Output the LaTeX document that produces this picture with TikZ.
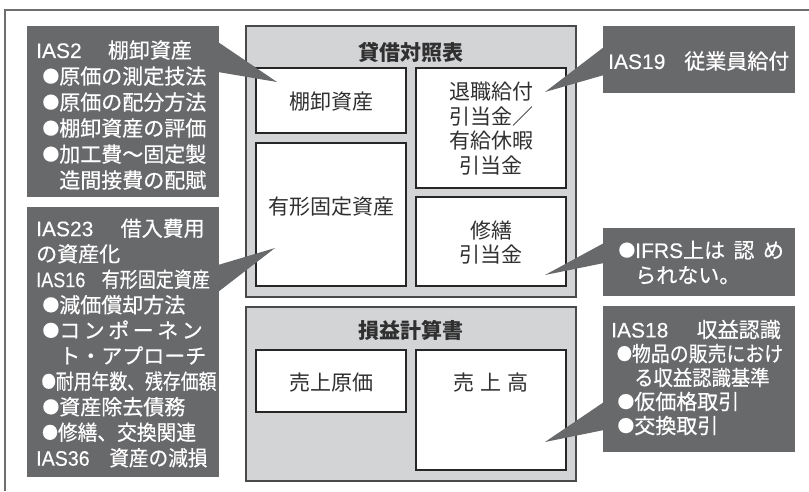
\documentclass[tikz,border=0pt]{standalone}
\usepackage{fontspec}
\setmainfont{Noto Sans CJK JP}
\newfontfamily\cfont[FakeBold=0.5]{Noto Sans CJK JP}
\newfontfamily\lfont[FakeBold=0.3]{Liberation Sans}
\newcommand\lat[1]{{\lfont #1}}
\newcommand\bul{\makebox[1.1em][r]{\raisebox{0.07em}{\scalebox{0.8}{●}}}}
\usepackage{graphicx}
\definecolor{callgray}{HTML}{68696B}
\definecolor{sheetgray}{HTML}{D3D4D6}
\definecolor{sheetline}{HTML}{4A4A4A}
\definecolor{itemline}{HTML}{262626}
\definecolor{framecol}{HTML}{6E6E6E}
\definecolor{textdark}{HTML}{303030}
\begin{document}
\begin{tikzpicture}[x=1pt,y=-1pt,
  frame/.style={draw=framecol,line width=1.4pt},
  sheet/.style={draw=sheetline,fill=sheetgray,line width=1.2pt,inner sep=0pt,outer sep=0pt},
  item/.style={draw=itemline,fill=white,line width=1.8pt,inner sep=0pt,outer sep=0pt},
  callout/.style={fill=callgray,draw=none,inner sep=0pt,outer sep=0pt},
  wedge/.style={fill=callgray,draw=none},
  ctext/.style={text=white,font=\cfont\fontsize{21}{26}\selectfont,align=left,inner sep=0pt,anchor=west},
  itext/.style={text=textdark,font=\fontsize{21}{24.5}\selectfont,align=center,inner sep=0pt},
  ttext/.style={text=textdark,font=\bfseries\fontsize{21}{25}\selectfont,inner sep=0pt},
]
\useasboundingbox (0,0) rectangle (809,491);
\fill[white] (0,0) rectangle (809,491);

% outer frame (top and left only)
\coordinate (fr-tr) at (809,10);
\coordinate (fr-tl) at (5,10);
\coordinate (fr-bl) at (5,491);
\draw[frame] (fr-tr) -- (fr-tl) -- (fr-bl);

% statements
\node[sheet,minimum width=330pt,minimum height=271pt] (bs) at (411,161.5) {};
\node[sheet,minimum width=330pt,minimum height=174pt] (is) at (411,394) {};
\node[ttext] (bs-t) at (411,52) {貸借対照表};
\node[ttext] (is-t) at (411,330) {損益計算書};

\node[item,minimum width=150pt,minimum height=65pt] (inv) at (331,100.5) {};
\node[item,minimum width=150pt,minimum height=143pt] (ppe) at (331,214.5) {};
\node[item,minimum width=150pt,minimum height=120pt] (ret) at (491,128) {};
\node[item,minimum width=150pt,minimum height=89pt] (rep) at (491,241.5) {};
\node[item,minimum width=150pt,minimum height=62pt] (cogs) at (331,381) {};
\node[item,minimum width=150pt,minimum height=120pt] (sales) at (491,410) {};

\node[itext] (inv-t) at (331,102) {棚卸資産};
\node[itext] (ppe-t) at (331,207) {有形固定資産};
\node[itext] (ret-t) at (491,128.5) {退職給付\\引当金／\\有給休暇\\引当金};
\node[itext] (rep-t) at (491,242.5) {修繕\\引当金};
\node[itext] (cogs-t) at (331,383) {売上原価};
\node[itext] (sales-t) at (491,383) {売\hspace{0.3em}上\hspace{0.3em}高};

% callout boxes
\node[callout,minimum width=192pt,minimum height=171pt] (ias2) at (123,111.5) {};
\node[callout,minimum width=192pt,minimum height=270pt] (ias23) at (123,342) {};
\node[callout,minimum width=192pt,minimum height=67pt] (ias19) at (699,59.5) {};
\node[callout,minimum width=192pt,minimum height=68pt] (ifrs) at (699,262) {};
\node[callout,minimum width=192pt,minimum height=146pt] (ias18) at (699,379) {};

% pointer tips
\coordinate (tip-ias2) at (277,82);
\coordinate (tip-ias23) at (275,248);
\coordinate (tip-ias19) at (545,92);
\coordinate (tip-ifrs) at (545,275);
\coordinate (tip-ias18) at (545,442);

\fill[wedge] ([xshift=-1pt,yshift=-16pt]ias2.north east) -- (tip-ias2) -- ([xshift=-1pt,yshift=-46pt]ias2.north east) -- cycle;
\fill[wedge] ([xshift=-1pt,yshift=-58pt]ias23.north east) -- (tip-ias23) -- ([xshift=-1pt,yshift=-85pt]ias23.north east) -- cycle;
\fill[wedge] ([xshift=1pt,yshift=-21pt]ias19.north west) -- (tip-ias19) -- ([xshift=1pt,yshift=-49pt]ias19.north west) -- cycle;
\fill[wedge] ([xshift=1pt,yshift=-15pt]ifrs.north west) -- (tip-ifrs) -- ([xshift=1pt,yshift=-35pt]ifrs.north west) -- cycle;
\fill[wedge] ([xshift=1pt,yshift=-96pt]ias18.north west) -- (tip-ias18) -- ([xshift=1pt,yshift=-124pt]ias18.north west) -- cycle;

% callout texts
\node[ctext] (ias2-t) at (36,115) {\lat{IAS2}\hspace{1.25em}棚卸資産\\\bul 原価の測定技法\\\bul 原価の配分方法\\\bul 棚卸資産の評価\\\bul 加工費〜固定製\\\hspace*{1.1em}造間接費の配賦};
\node[ctext,font=\cfont\fontsize{21}{25.5}\selectfont] (ias23-t) at (36,343) {\lat{IAS23}\hspace{1.3em}借入費用\\の資産化\\\scalebox{0.86}[1]{\lat{IAS16}\hspace{0.9em}有形固定資産}\\\bul 減価償却方法\\\bul コ\,ン\,ポ\,ー\,ネ\,ン\\\hspace*{1.1em}ト・アプローチ\\\scalebox{0.85}[1]{\bul 耐用年数、残存価額}\\\bul 資産除去債務\\\scalebox{0.94}[1]{\bul 修繕、交換関連}\\\scalebox{0.935}[1]{\lat{IAS36}\hspace{1.0em}資産の減損}};
\node[ctext] (ias19-t) at (608,61) {\lat{IAS19}\hspace{0.9em}従業員給付};
\node[ctext,font=\cfont\fontsize{21}{25}\selectfont] (ifrs-t) at (612,262.5) {\bul\lat{IFRS}上は\hspace{0.4em}認\hspace{0.4em}め\\\hspace*{1.1em}られない。};
\node[ctext,font=\cfont\fontsize{21}{24}\selectfont] (ias18-t) at (611,377.5) {\lat{IAS18}\hspace{1.35em}収益認識\\\scalebox{0.9}[1]{\bul 物品の販売におけ}\\\hspace*{1.1em}\scalebox{0.92}[1]{る収益認識基準}\\\bul 仮価格取引\\\bul 交換取引};
\end{tikzpicture}
\end{document}
